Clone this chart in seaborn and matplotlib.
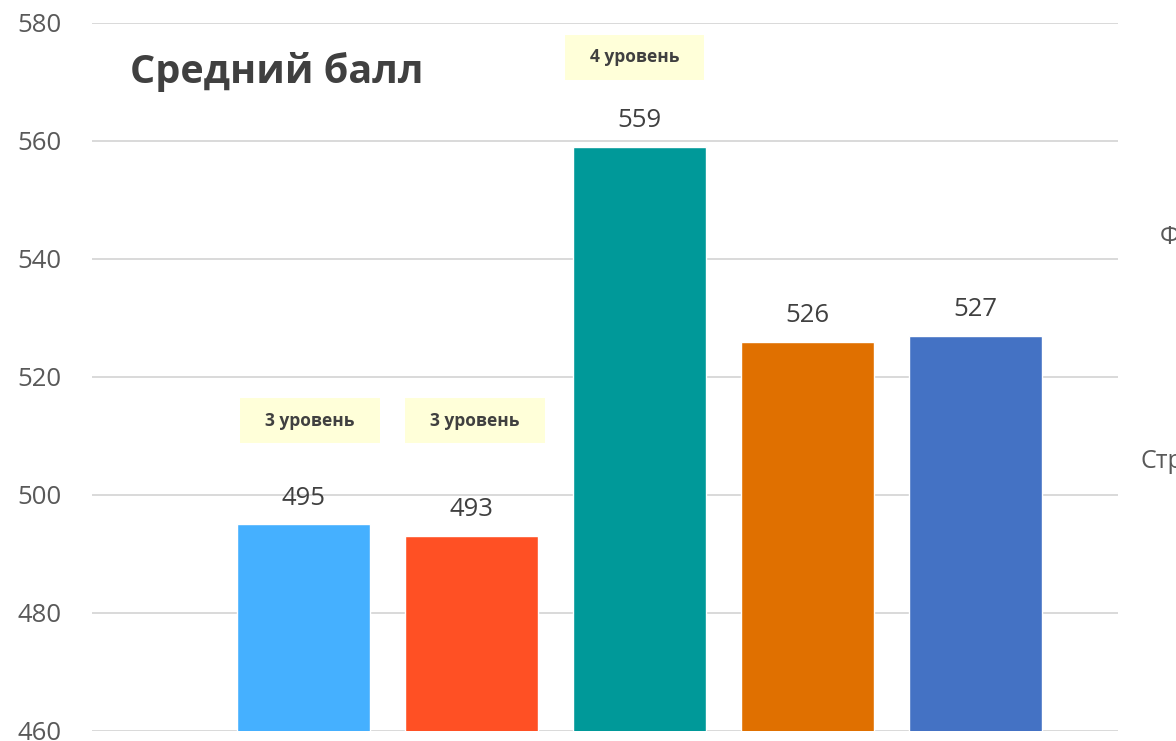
import numpy as np
import pandas as pd
import matplotlib
matplotlib.use("Agg")
import matplotlib.pyplot as plt
import seaborn as sns
from matplotlib.patches import Rectangle

# data
groups = ["1", "2", "3", "4", "5"]
scores = [495, 493, 559, 526, 527]
bar_colors = ["#45B0FF", "#FF5024", "#009999", "#E07000", "#4472C4"]

level_labels = ["3 уровень", "3 уровень", "4 уровень"]
level_bars = [0, 1, 2]
level_shift = [0.04, 0.02, -0.03]
level_y = [512.6, 512.6, 574.2]

y_ticks = [460, 480, 500, 520, 540, 560, 580]

sns.set_theme(style="white")
plt.rcParams['font.family'] = ['Open Sans', 'DejaVu Sans']

df = pd.DataFrame({"group": groups, "score": scores})

fig = plt.figure(figsize=(11.76, 7.41), dpi=100)
ax = fig.add_axes([0.0782, 0.0135, 0.8725, 0.9555])

sns.barplot(data=df, x="group", y="score", hue="group", palette=bar_colors,
            width=0.79, legend=False, ax=ax, saturation=1)

ax.set_ylim(460, 580)
ax.set_xlim(-1.259, 4.848)
ax.set_yticks(y_ticks)
ax.yaxis.grid(True, color="#D9D9D9", linewidth=1.4)
ax.set_axisbelow(True)
for s in ["top", "right", "left", "bottom"]:
    ax.spines[s].set_visible(False)
ax.set_xticks([])
ax.set_xlabel("")
ax.set_ylabel("")
ax.tick_params(axis="y", length=0, pad=22, labelsize=18.5, labelcolor="#595959")

# value labels
for i, v in enumerate(scores):
    ax.annotate(str(v), (i, v), xytext=(0, 10), textcoords="offset points",
                ha="center", va="bottom", fontsize=18.5, color="#404040")

# level boxes
for lab, b, sh, yy in zip(level_labels, level_bars, level_shift, level_y):
    bx = b + sh
    ax.add_patch(Rectangle((bx - 0.415, yy - 3.8), 0.83, 7.6,
                           facecolor="#FFFFD9", edgecolor="none", zorder=3))
    ax.text(bx, yy, lab, ha="center", va="center", fontsize=12.5,
            fontweight="bold", color="#404040", zorder=4)

ax.text(0.037, 0.931, "Средний балл", transform=ax.transAxes, fontsize=28.5,
        fontweight="bold", color="#404040", ha="left", va="center")

# legend entries cut off by the right edge
fig.text(1160 / 1176, 1 - 238 / 741, "Ф", fontsize=18, color="#595959",
         ha="left", va="center")
fig.text(1140 / 1176, 1 - 462 / 741, "Стр", fontsize=18, color="#595959",
         ha="left", va="center")

fig.savefig("out.png", dpi=100)
